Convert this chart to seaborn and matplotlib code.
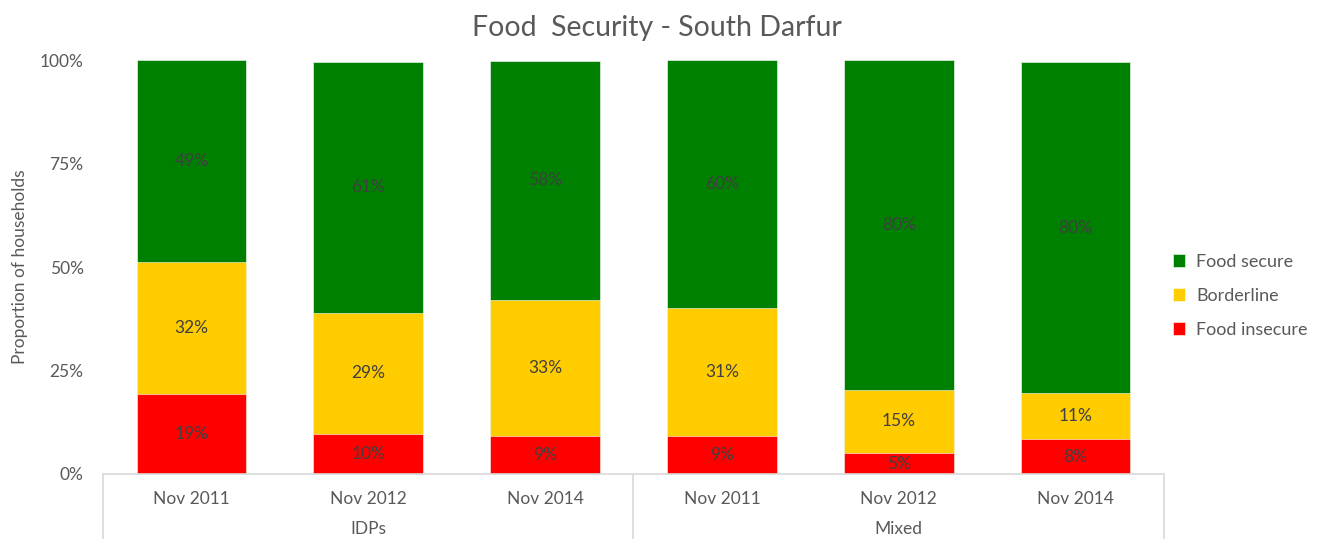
import matplotlib
matplotlib.use("Agg")
import matplotlib.pyplot as plt
import matplotlib.transforms as mtransforms
import seaborn as sns
import pandas as pd
import numpy as np

# Survey rounds and groups
groups = ["IDPs", "IDPs", "IDPs", "Mixed", "Mixed", "Mixed"]
rounds = ["Nov 2011", "Nov 2012", "Nov 2014", "Nov 2011", "Nov 2012", "Nov 2014"]

# Share of households (%) by food security status
food_insecure = [19.4, 9.7, 9.2, 9.2, 5.0, 8.4]
borderline = [31.9, 29.2, 32.9, 30.9, 15.4, 11.1]
food_secure = [48.7, 60.7, 57.6, 59.9, 79.6, 80.0]

series_names = ["Food secure", "Borderline", "Food insecure"]
colors = {"Food secure": "#008000", "Borderline": "#FFCC00", "Food insecure": "#FF0000"}

sns.set_theme(style="white")
plt.rcParams["font.family"] = ["Lato", "DejaVu Sans"]
text_color = "#595959"
fs = 12.5

ids = [f"{g}|{r}" for g, r in zip(groups, rounds)]
df = pd.DataFrame({
    "id": ids,
    "insecure": food_insecure,
    "borderline": borderline,
    "secure": food_secure,
})
df["cum_insecure"] = df["insecure"]
df["cum_borderline"] = df["insecure"] + df["borderline"]
df["cum_secure"] = df["cum_borderline"] + df["secure"]

fig = plt.figure(figsize=(13.22, 5.39), dpi=100)
ax = fig.add_axes([103 / 1322, 1 - 474 / 539, (1164 - 103) / 1322, (474 - 60) / 539])

bar_w = 0.62
# Stacked bars drawn as overlapping cumulative totals
for col, name in [("cum_secure", "Food secure"), ("cum_borderline", "Borderline"),
                  ("cum_insecure", "Food insecure")]:
    sns.barplot(data=df, x="id", y=col, order=ids, color=colors[name], width=bar_w,
                saturation=1, ax=ax, edgecolor="white", linewidth=0.4, label=name)

# Data labels centred in each segment
bottoms = np.zeros(len(ids))
for vals in [food_insecure, borderline, food_secure]:
    for i, v in enumerate(vals):
        ax.text(i, bottoms[i] + v / 2, f"{v:.0f}%", ha="center", va="center",
                fontsize=fs, color="#404040")
    bottoms += np.array(vals)

ax.set_xlim(-0.5, len(ids) - 0.5)
ax.set_ylim(0, 100)
ax.set_yticks([0, 25, 50, 75, 100])
ax.set_yticklabels([f"{t}%" for t in [0, 25, 50, 75, 100]], fontsize=fs, color=text_color)
ax.tick_params(axis="y", length=0, pad=14)
ax.set_xticks(range(len(ids)))
ax.set_xticklabels(rounds, fontsize=fs, color=text_color)
ax.tick_params(axis="x", length=0, pad=12)
ax.set_xlabel("")
ax.set_ylabel("Proportion of households", fontsize=fs, color=text_color)
ax.yaxis.set_label_coords(-0.071, 0.5)

for side in ["left", "right", "top"]:
    ax.spines[side].set_visible(False)
ax.spines["bottom"].set_color("#D9D9D9")
ax.spines["bottom"].set_linewidth(1.2)

# Group labels and separators of the two-level category axis
trans = mtransforms.blended_transform_factory(ax.transData, ax.transAxes)
for xs in [-0.5, 2.5, 5.5]:
    ax.plot([xs, xs], [0, -0.2], transform=trans, color="#D9D9D9", lw=1.2, clip_on=False)
for g_name, center in [("IDPs", 1.0), ("Mixed", 4.0)]:
    ax.text(center, -0.133, g_name, transform=trans, ha="center", va="center",
            fontsize=fs, color=text_color)

fig.text(657 / 1322, 1 - 28 / 539, "Food  Security - South Darfur", ha="center",
         va="center", fontsize=20.5, color=text_color)

handles, labels = ax.get_legend_handles_labels()
order = [labels.index(n) for n in series_names]
leg = ax.legend([handles[i] for i in order], [labels[i] for i in order],
                loc="center left", bbox_to_anchor=(0.993, 0.43), frameon=False,
                fontsize=13, handlelength=0.7, handleheight=0.7, labelspacing=1.0,
                handletextpad=0.6)
for t in leg.get_texts():
    t.set_color(text_color)

fig.savefig("out.png", dpi=100)
